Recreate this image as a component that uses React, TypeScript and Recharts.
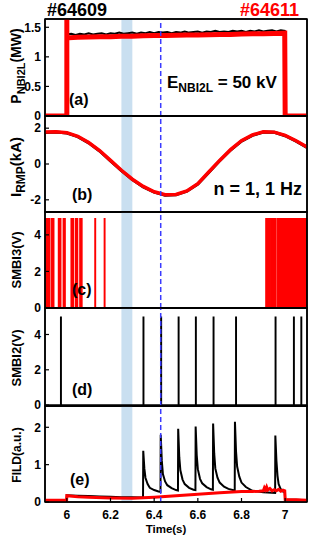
import React from 'react';
import { ComposedChart, Line, Area, XAxis, YAxis, ReferenceLine, ReferenceArea } from 'recharts';

const FONT = '"Liberation Sans", Arial, sans-serif';
const X_DOMAIN: [number, number] = [5.9, 7.1];
const X_TICKS = [6, 6.2, 6.4, 6.6, 6.8, 7];
const BAND_START = 6.25;
const BAND_END = 6.3;
const MARK_TIME = 6.43;

// ---------- panel (a): P_NBI2L (MW) ----------
const nbiBlackTime = [5.9, 5.999, 6.0, 6.02, 6.04, 6.06, 6.08, 6.1, 6.12, 6.14, 6.16, 6.18, 6.2, 6.22, 6.24, 6.26, 6.28, 6.3, 6.32, 6.34, 6.36, 6.38, 6.4, 6.42, 6.44, 6.46, 6.48, 6.5, 6.52, 6.54, 6.56, 6.58, 6.6, 6.62, 6.64, 6.66, 6.68, 6.7, 6.72, 6.74, 6.76, 6.78, 6.8, 6.82, 6.84, 6.86, 6.88, 6.9, 6.92, 6.94, 6.96, 6.98, 6.998, 7.0, 7.1];
const nbiBlackValue = [0, 0, 1.38, 1.39, 1.37, 1.39, 1.38, 1.4, 1.38, 1.39, 1.4, 1.38, 1.4, 1.39, 1.41, 1.39, 1.4, 1.41, 1.39, 1.41, 1.4, 1.42, 1.4, 1.42, 1.41, 1.42, 1.4, 1.42, 1.41, 1.43, 1.41, 1.42, 1.43, 1.41, 1.43, 1.42, 1.44, 1.42, 1.43, 1.42, 1.44, 1.43, 1.44, 1.42, 1.44, 1.43, 1.45, 1.43, 1.44, 1.45, 1.43, 1.45, 1.44, 0, 0];
const nbiRedTime = [5.9, 5.999, 6.0, 6.0, 6.0, 6.05, 6.1, 6.15, 6.2, 6.25, 6.3, 6.35, 6.4, 6.45, 6.5, 6.55, 6.6, 6.65, 6.7, 6.75, 6.8, 6.85, 6.9, 6.95, 6.998, 7.0, 7.1];
const nbiRedValue = [0, 0, 0, 1.64, 1.32, 1.33, 1.335, 1.34, 1.34, 1.35, 1.35, 1.355, 1.36, 1.36, 1.365, 1.37, 1.37, 1.375, 1.38, 1.38, 1.385, 1.39, 1.39, 1.395, 1.4, 0, 0];

// ---------- panel (b): I_RMP (kA) ----------
const rmpTime = [5.9, 5.95, 6.0, 6.05, 6.1, 6.15, 6.2, 6.25, 6.3, 6.35, 6.4, 6.45, 6.5, 6.55, 6.6, 6.65, 6.7, 6.75, 6.8, 6.85, 6.9, 6.95, 7.0, 7.05, 7.1];
const rmpBlack = [1.76, 1.79, 1.73, 1.53, 1.18, 0.73, 0.18, -0.37, -0.87, -1.28, -1.57, -1.74, -1.72, -1.52, -1.12, -0.47, 0.18, 0.78, 1.28, 1.6, 1.78, 1.77, 1.58, 1.28, 0.93];
const rmpRed = [1.78, 1.8, 1.75, 1.55, 1.2, 0.75, 0.2, -0.35, -0.85, -1.25, -1.55, -1.72, -1.7, -1.5, -1.1, -0.45, 0.2, 0.8, 1.3, 1.62, 1.8, 1.78, 1.6, 1.3, 0.95];

// ---------- panel (c): SMBI3 (V) ----------
const smbi3SpikeTimes = [5.904, 5.912, 5.92, 5.931, 5.938, 5.962, 5.97, 5.984, 5.99, 6.02, 6.028, 6.04, 6.047, 6.06, 6.067, 6.129, 6.172];
const smbi3BlockStart = [6.912, 6.931, 6.944, 6.963];
const smbi3BlockEnd = [6.926, 6.94, 6.955, 7.1];
const smbi3High = 4.88;

// ---------- panel (d): SMBI2 (V) ----------
const smbi2SpikeTimes = [5.972, 6.35, 6.431, 6.511, 6.59, 6.671, 6.774, 6.955, 7.039, 7.073];
const smbi2High = 4.97;

// ---------- panel (e): FILD (a.u.) ----------
const fildBlackTime = [5.9, 5.95, 5.999, 6.0, 6.05, 6.1, 6.15, 6.2, 6.25, 6.3, 6.349,
  6.35, 6.355, 6.36, 6.37, 6.38, 6.4, 6.42, 6.429,
  6.43, 6.435, 6.44, 6.45, 6.46, 6.48, 6.5, 6.509,
  6.51, 6.515, 6.52, 6.53, 6.54, 6.56, 6.58, 6.589,
  6.59, 6.595, 6.6, 6.61, 6.62, 6.64, 6.66, 6.669,
  6.67, 6.675, 6.68, 6.69, 6.7, 6.72, 6.74, 6.769,
  6.77, 6.775, 6.78, 6.79, 6.8, 6.82, 6.85, 6.9, 6.954,
  6.955, 6.96, 6.965, 6.97, 6.98, 6.99, 6.998, 7.0, 7.05, 7.1];
const fildBlackValue = [0.05, 0.05, 0.05, 0.18, 0.17, 0.16, 0.15, 0.14, 0.13, 0.13, 0.12,
  1.37, 0.9, 0.65, 0.48, 0.38, 0.32, 0.28, 0.27,
  1.8, 1.1, 0.75, 0.55, 0.45, 0.37, 0.32, 0.31,
  1.96, 1.2, 0.85, 0.6, 0.48, 0.38, 0.33, 0.32,
  2.02, 1.25, 0.88, 0.62, 0.5, 0.4, 0.34, 0.33,
  2.1, 1.3, 0.9, 0.65, 0.52, 0.41, 0.35, 0.31,
  2.15, 1.35, 0.95, 0.68, 0.52, 0.4, 0.3, 0.26, 0.24,
  1.78, 1.1, 0.7, 0.48, 0.34, 0.28, 0.27, 0.06, 0.06, 0.05];
const fildRedTime = [5.9, 5.999, 6.0, 6.05, 6.1, 6.2, 6.3, 6.4, 6.5, 6.6, 6.7, 6.8, 6.85, 6.88, 6.9, 6.905, 6.91, 6.915, 6.92, 6.93, 6.94, 6.95, 6.96, 6.97, 6.98, 6.99, 6.998, 7.0, 7.05, 7.1];
const fildRedValue = [0.05, 0.05, 0.17, 0.14, 0.13, 0.11, 0.1, 0.13, 0.17, 0.21, 0.25, 0.28, 0.28, 0.29, 0.3, 0.38, 0.33, 0.4, 0.32, 0.36, 0.3, 0.33, 0.3, 0.34, 0.29, 0.32, 0.3, 0.07, 0.06, 0.05];

// ---------- helpers ----------
type Pt = { t: number; v: number };
const pairs = (ts: number[], vs: number[]): Pt[] => ts.map((t, i) => ({ t, v: vs[i] }));

const spikes = (times: number[], width: number, high: number): Pt[] => {
  const out: Pt[] = [{ t: X_DOMAIN[0], v: 0 }];
  times.forEach((t) => {
    out.push({ t, v: 0 }, { t, v: high }, { t: t + width, v: high }, { t: t + width, v: 0 });
  });
  out.push({ t: X_DOMAIN[1], v: 0 });
  return out;
};

const blocks = (starts: number[], ends: number[], high: number): Pt[] => {
  const out: Pt[] = [];
  starts.forEach((s, i) => {
    out.push({ t: s, v: 0 }, { t: s, v: high }, { t: ends[i], v: high }, { t: ends[i], v: 0 });
  });
  return out;
};

const smbi3Data = [...spikes(smbi3SpikeTimes, 0.002, smbi3High).slice(0, -1), ...blocks(smbi3BlockStart, smbi3BlockEnd, smbi3High)];
const smbi2Data = spikes(smbi2SpikeTimes, 0.002, smbi2High);

const AX = { stroke: '#000', strokeWidth: 1.5 };
const TL = { stroke: '#000', strokeWidth: 1.2 };
const TICK_STYLE = { fill: '#000', fontSize: 12, fontWeight: 'bold', fontFamily: FONT };

type PanelProps = {
  top: number;
  height: number;
  extraBottom?: number;
  yDomain: [number, number];
  yTicks: number[];
  showX?: boolean;
  children: React.ReactNode;
};

function Panel({ top, height, extraBottom = 0, yDomain, yTicks, showX = false, children }: PanelProps) {
  return (
    <div style={{ position: 'absolute', left: 0, top: top - 10 }}>
      <ComposedChart
        width={312}
        height={height + 20 + extraBottom}
        margin={{ top: 9, right: 4, bottom: 9 + extraBottom, left: 5 }}
      >
        <XAxis xAxisId="b" type="number" dataKey="t" domain={X_DOMAIN} ticks={X_TICKS} allowDataOverflow
          height={1} tickSize={-4} tickMargin={12} interval={0}
          tick={showX ? TICK_STYLE : false} axisLine={AX} tickLine={TL} />
        <XAxis xAxisId="t" orientation="top" type="number" dataKey="t" domain={X_DOMAIN} ticks={X_TICKS} allowDataOverflow
          height={1} tickSize={-4} interval={0} tick={false} axisLine={AX} tickLine={TL} />
        <YAxis yAxisId="l" type="number" domain={yDomain} ticks={yTicks} allowDataOverflow width={40}
          tickSize={-4} tickMargin={8} interval={0} tick={TICK_STYLE} axisLine={AX} tickLine={TL} />
        <YAxis yAxisId="r" orientation="right" type="number" domain={yDomain} ticks={yTicks} allowDataOverflow width={1}
          tickSize={-4} interval={0} tick={false} axisLine={AX} tickLine={TL} />
        <ReferenceArea xAxisId="b" yAxisId="l" x1={BAND_START} x2={BAND_END} y1={yDomain[0]} y2={yDomain[1]}
          fill="#c9dff0" fillOpacity={1} stroke="none" ifOverflow="hidden" />
        {children}
        <ReferenceLine xAxisId="b" yAxisId="l" x={MARK_TIME} stroke="#3b3bff" strokeWidth={1.5} strokeDasharray="5 3" />
        <ReferenceArea xAxisId="b" yAxisId="l" x1={X_DOMAIN[0]} x2={X_DOMAIN[1]} y1={yDomain[0]} y2={yDomain[1]}
          fill="none" fillOpacity={0} stroke="#000" strokeWidth={1.5} ifOverflow="visible" />
      </ComposedChart>
    </div>
  );
}

const lineCommon = {
  xAxisId: 'b',
  yAxisId: 'l',
  dataKey: 'v',
  type: 'linear' as const,
  dot: false,
  activeDot: false,
  isAnimationActive: false,
};

const TXT = { fontFamily: FONT, fontWeight: 'bold' as const };

export default function App() {
  return (
    <div style={{ position: 'absolute', left: 0, top: 0, width: 312, height: 538, background: '#fff', overflow: 'hidden' }}>
      <Panel top={19} height={97} yDomain={[0, 1.64]} yTicks={[0, 0.5, 1, 1.5]}>
        <Line {...lineCommon} data={pairs(nbiBlackTime, nbiBlackValue)} stroke="#000" strokeWidth={2} />
        <Line {...lineCommon} data={pairs(nbiRedTime, nbiRedValue)} stroke="#ff0000" strokeWidth={5} />
      </Panel>
      <Panel top={116} height={96} yDomain={[-2.68, 2.68]} yTicks={[-2, 0, 2]}>
        <Line {...lineCommon} data={pairs(rmpTime, rmpBlack)} stroke="#000" strokeWidth={3} />
        <Line {...lineCommon} data={pairs(rmpTime, rmpRed)} stroke="#ff0000" strokeWidth={3.5} />
      </Panel>
      <Panel top={212} height={96} yDomain={[0, 5.25]} yTicks={[0, 2, 4]}>
        <Area {...lineCommon} data={smbi3Data} stroke="#ff0000" strokeWidth={1.5} fill="#ff0000" fillOpacity={1} />
      </Panel>
      <Panel top={308} height={98} yDomain={[-0.05, 5.5]} yTicks={[0, 2, 4]}>
        <Line {...lineCommon} data={smbi2Data} stroke="#000" strokeWidth={1.5} />
      </Panel>
      <Panel top={406} height={96} extraBottom={36} yDomain={[0, 2.57]} yTicks={[0, 1, 2]} showX>
        <Line {...lineCommon} data={pairs(fildBlackTime, fildBlackValue)} stroke="#000" strokeWidth={2} />
        <Line {...lineCommon} data={pairs(fildRedTime, fildRedValue)} stroke="#ff0000" strokeWidth={3} />
      </Panel>

      <svg width={312} height={538} style={{ position: 'absolute', left: 0, top: 0, pointerEvents: 'none' }}>
        <text x={47} y={16} fontSize={18} fill="#000" {...TXT}>#64609</text>
        <text x={299} y={16} fontSize={18} fill="#ff0000" textAnchor="end" {...TXT}>#64611</text>

        <text x={69} y={105} fontSize={16} fill="#000" {...TXT}>(a)</text>
        <text x={167} y={88} fontSize={17} fill="#000" {...TXT}>
          E<tspan fontSize={12} dy={4}>NBI2L</tspan><tspan dy={-4}> = 50 kV</tspan>
        </text>

        <text x={72} y={200} fontSize={16} fill="#000" {...TXT}>(b)</text>
        <text x={302} y={195} fontSize={18} fill="#000" textAnchor="end" {...TXT}>n = 1, 1 Hz</text>

        <text x={72} y={295} fontSize={16} fill="#000" {...TXT}>(c)</text>
        <text x={72} y={395} fontSize={16} fill="#000" {...TXT}>(d)</text>
        <text x={70} y={485} fontSize={16} fill="#000" {...TXT}>(e)</text>

        <text x={166} y={533} fontSize={11.5} fill="#000" textAnchor="middle" {...TXT}>Time(s)</text>

        <text transform="translate(21,66) rotate(-90)" fontSize={14} fill="#000" textAnchor="middle" {...TXT}>
          P<tspan fontSize={11} dy={4}>NBI2L</tspan><tspan dy={-4}>(MW)</tspan>
        </text>
        <text transform="translate(21,167) rotate(-90)" fontSize={15} fill="#000" textAnchor="middle" {...TXT}>
          I<tspan fontSize={12} dy={4}>RMP</tspan><tspan dy={-4}>(kA)</tspan>
        </text>
        <text transform="translate(21,260) rotate(-90)" fontSize={13} fill="#000" textAnchor="middle" {...TXT}>SMBI3(V)</text>
        <text transform="translate(21,358) rotate(-90)" fontSize={13} fill="#000" textAnchor="middle" {...TXT}>SMBI2(V)</text>
        <text transform="translate(21,455) rotate(-90)" fontSize={12} fill="#000" textAnchor="middle" {...TXT}>FILD(a.u.)</text>
      </svg>
    </div>
  );
}
